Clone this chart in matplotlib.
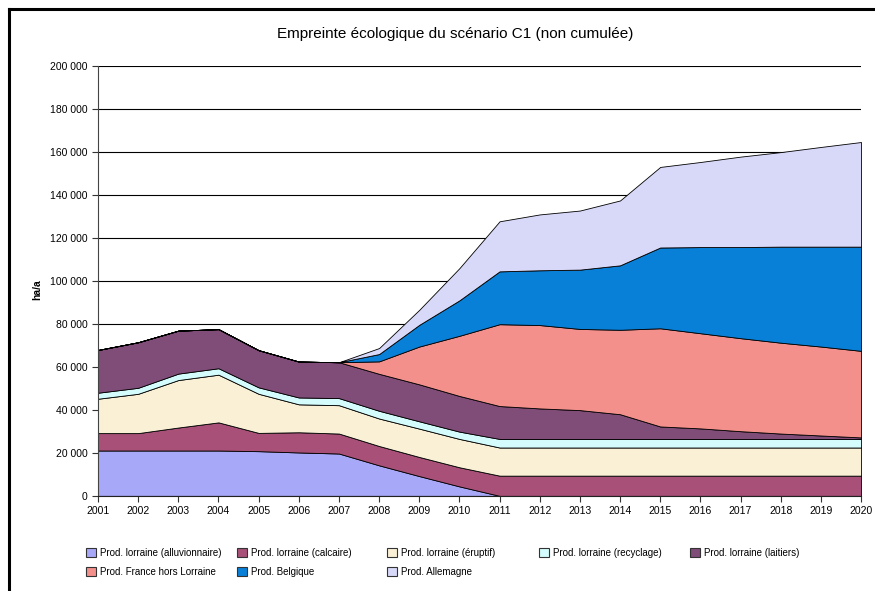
import numpy as np
import matplotlib
matplotlib.use('Agg')
import matplotlib.pyplot as plt
from matplotlib.patches import Patch
from matplotlib.lines import Line2D
from matplotlib.ticker import FuncFormatter

plt.rcParams['font.family'] = ['Liberation Sans', 'DejaVu Sans']

years = np.arange(2001, 2021)

# values in ha/a (thousands)
alluvionnaire = [21.1, 21.1, 21.1, 21.1, 20.8, 20.2, 19.7, 14.2, 9.2, 4.4,
                 0, 0, 0, 0, 0, 0, 0, 0, 0, 0]
calcaire = [8.1, 8.1, 10.7, 13.1, 8.5, 9.4, 9.3, 9.0, 8.9, 8.9,
            9.4, 9.4, 9.4, 9.4, 9.4, 9.4, 9.4, 9.4, 9.4, 9.4]
eruptif = [16.0, 18.3, 22.1, 22.2, 18.2, 13.0, 13.2, 12.8, 13.2, 13.2,
           13.1, 13.1, 13.1, 13.1, 13.1, 13.1, 13.1, 13.1, 13.1, 13.1]
recyclage = [2.8, 2.8, 3.0, 3.0, 3.0, 3.2, 3.3, 3.6, 3.4, 3.4,
             4.0, 4.0, 4.0, 4.0, 4.0, 4.0, 4.0, 4.0, 4.0, 4.0]
laitiers = [19.9, 21.2, 20.0, 18.2, 17.3, 16.7, 16.7, 17.2, 17.2, 16.6,
            15.3, 14.2, 13.4, 11.5, 5.8, 4.9, 3.6, 2.5, 1.6, 0.7]
france = [0, 0, 0, 0, 0, 0, 0, 5.8, 17.6, 28.0,
          38.1, 38.8, 37.8, 39.3, 45.7, 44.3, 43.3, 42.3, 41.4, 40.3]
belgique = [0, 0, 0, 0, 0, 0, 0, 3.4, 10.1, 16.5,
            24.6, 25.5, 27.6, 30.0, 37.6, 40.1, 42.4, 44.7, 46.5, 48.5]
allemagne = [0, 0, 0, 0, 0, 0, 0, 2.8, 7.0, 15.0,
             23.3, 26.0, 27.5, 30.2, 37.5, 39.6, 42.1, 44.0, 46.4, 48.7]

labels = ['Prod. lorraine (alluvionnaire)', 'Prod. lorraine (calcaire)',
          'Prod. lorraine (éruptif)', 'Prod. lorraine (recyclage)',
          'Prod. lorraine (laitiers)', 'Prod. France hors Lorraine',
          'Prod. Belgique', 'Prod. Allemagne']
colors = ['#a8a8f8', '#a85078', '#faf0d6', '#d4fcfc', '#804c78',
          '#f4908c', '#0880d8', '#d8d8f8']

series = [alluvionnaire, calcaire, eruptif, recyclage, laitiers,
          france, belgique, allemagne]
series = [np.array(s) * 1000 for s in series]

fig = plt.figure(figsize=(8.75, 5.91), dpi=100)
fig.patch.set_facecolor('white')
ax = fig.add_axes([0.112, 0.161, 0.872, 0.727])

ax.stackplot(years, *series, colors=colors, edgecolor='black', linewidth=0.6)

ax.set_xlim(2001, 2020)
ax.set_ylim(0, 200000)
ax.set_xticks(years)
ax.set_yticks(np.arange(0, 200001, 20000))
ax.yaxis.set_major_formatter(FuncFormatter(lambda v, p: f'{int(v):,}'.replace(',', ' ')))
ax.tick_params(labelsize=7.5, length=4, width=0.8, color='#333333')
ax.grid(axis='y', color='black', linewidth=0.8)
ax.set_axisbelow(True)
for s in ['top', 'right']:
    ax.spines[s].set_visible(False)
ax.spines['left'].set_color('#444444')
ax.spines['bottom'].set_color('#222222')
ax.set_ylabel('ha/a', fontsize=7.5, fontweight='bold', labelpad=6)
ax.yaxis.set_label_coords(-0.073, 0.48)

fig.text(0.52, 0.943, 'Empreinte écologique du scénario C1 (non cumulée)',
         ha='center', va='center', fontsize=11)

# legend, laid out in rows like the original
handles = [Patch(facecolor=c, edgecolor='#333333', linewidth=0.8) for c in colors]
col_x = [86, 237, 387, 539, 690]
columns = [[0, 5], [1, 6], [2, 7], [3], [4]]
for cx, idx in zip(col_x, columns):
    fig.legend([handles[i] for i in idx], [labels[i] for i in idx],
               loc='upper left', bbox_to_anchor=(cx / 875, 1 - 547.5 / 591),
               frameon=False, fontsize=7, handlelength=1.0, handleheight=1.0,
               handletextpad=0.45, labelspacing=0.95, borderpad=0, borderaxespad=0)

# frame of the screenshot
fig.add_artist(Line2D([9 / 875, 9 / 875], [0, 1 - 9 / 591], color='black',
                      linewidth=2.2, transform=fig.transFigure))
fig.add_artist(Line2D([9 / 875, 1], [1 - 9 / 591, 1 - 9 / 591], color='black',
                      linewidth=2.2, transform=fig.transFigure))

fig.savefig('out.png', dpi=100)
